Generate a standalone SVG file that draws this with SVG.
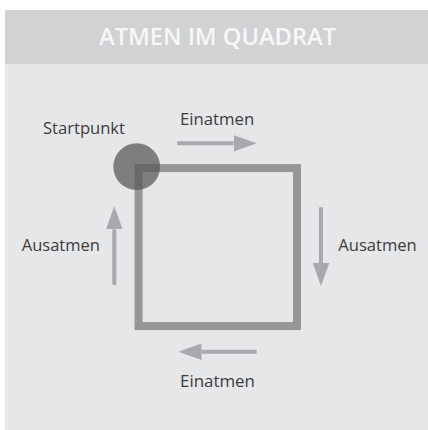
<svg xmlns="http://www.w3.org/2000/svg" width="428" height="430" viewBox="0 0 428 430">
  <style>
    .lbl { font-family: "Open Sans", "Liberation Sans", sans-serif; font-size: 16px; fill: #3c3c3e; }
    .title { font-family: "Open Sans", "Liberation Sans", sans-serif; font-size: 23px; font-weight: 600; fill: #f7f7f7; }
    .arrow { stroke: #a7a9ac; stroke-width: 4; fill: none; marker-end: url(#head); }
  </style>
  <defs>
    <marker id="head" markerUnits="userSpaceOnUse" viewBox="0 0 23 16.6" refX="0" refY="8.3" markerWidth="23" markerHeight="16.6" orient="auto">
      <path d="M0,0 L23,8.3 L0,16.6 z" fill="#a7a9ac"/>
    </marker>
  </defs>
  <rect x="0" y="0" width="428" height="430" fill="#ffffff"/>
  <rect id="panel" x="5" y="64" width="423" height="366" fill="#e6e7e8"/>
  <g id="header">
    <rect x="5" y="10" width="423" height="54" fill="#d1d2d4"/>
    <text class="title" x="217.5" y="45" text-anchor="middle" textLength="237" lengthAdjust="spacingAndGlyphs">ATMEN IM QUADRAT</text>
  </g>
  <g id="square">
    <rect x="138.6" y="168.1" width="158.4" height="158" fill="none" stroke="#959698" stroke-width="8"/>
  </g>
  <g id="startpunkt">
    <circle cx="136.7" cy="166.7" r="23.4" fill="#595959" fill-opacity="0.74"/>
    <text class="lbl" x="43" y="133.5" textLength="82" lengthAdjust="spacingAndGlyphs">Startpunkt</text>
  </g>
  <g id="connectors">
    <line class="arrow" x1="177.3" y1="143.3" x2="233.5" y2="143.3"/>
    <line class="arrow" x1="321" y1="207.3" x2="321" y2="263"/>
    <line class="arrow" x1="256.7" y1="351.7" x2="201.5" y2="351.7"/>
    <line class="arrow" x1="114.3" y1="285" x2="114.3" y2="229.3"/>
  </g>
  <g id="label-einatmen-top">
    <text class="lbl" x="180" y="125" textLength="74.3" lengthAdjust="spacingAndGlyphs">Einatmen</text>
  </g>
  <g id="label-ausatmen-right">
    <text class="lbl" x="338.3" y="251" textLength="78.4" lengthAdjust="spacingAndGlyphs">Ausatmen</text>
  </g>
  <g id="label-einatmen-bottom">
    <text class="lbl" x="180" y="386.7" textLength="75" lengthAdjust="spacingAndGlyphs">Einatmen</text>
  </g>
  <g id="label-ausatmen-left">
    <text class="lbl" x="21.7" y="251" textLength="78.3" lengthAdjust="spacingAndGlyphs">Ausatmen</text>
  </g>
</svg>
